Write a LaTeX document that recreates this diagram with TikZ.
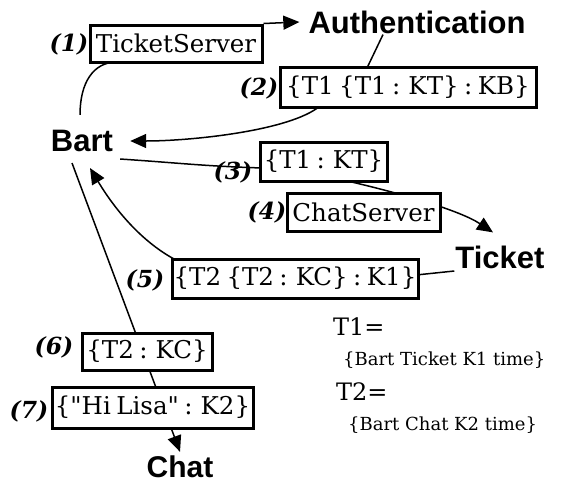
\documentclass[tikz,border=0pt]{standalone}
\usepackage{fontspec}
\setmainfont{DejaVu Serif}
\newfontfamily\msgfont{DejaVu Serif}[WordSpace=0.7]
\newfontfamily\hvfont{Liberation Sans}
\usetikzlibrary{arrows.meta}
\tikzset{
  hd/.style={font=\hvfont\bfseries\fontsize{31}{31}\selectfont, inner sep=1pt},
  msg/.style={draw, line width=3pt, fill=white, inner sep=0pt, font=\msgfont\fontsize{24.5}{24.5}\selectfont},
  num/.style={font=\bfseries\itshape\fontsize{23.5}{23.5}\selectfont, inner sep=0pt},
  conn/.style={line width=1.5pt},
  tip/.style={-{Triangle[length=16pt,width=14pt]}},
  defeq/.style={font=\fontsize{24}{24}\selectfont, inner sep=0pt, anchor=west},
  defval/.style={font=\fontsize{18}{18}\selectfont, inner sep=0pt, anchor=west}
}
\begin{document}
\begin{tikzpicture}[x=1pt,y=-1pt]
\useasboundingbox[fill=white] (0,0) rectangle (561,485);
% text nodes
\node[hd] (auth) at (417,22) {Authentication};
\node[hd] (bart) at (82,141) {Bart};
\node[hd] (ticket) at (500,257) {Ticket};
\node[hd, font=\hvfont\bfseries\fontsize{30}{30}\selectfont] (chat) at (180,467) {Chat};
% connectors (drawn under the boxes)
\draw[conn] ([yshift=14pt,xshift=-2pt]bart.north) .. controls +(0,-32) and +(-24,0) .. (117,62);
\draw[conn] ([xshift=-34pt]auth.south) -- (367,68);
\draw[conn,tip] (320,106) .. controls +(-30,25) and +(60,0) .. ([xshift=16pt]bart.east);
\draw[conn] ([xshift=6pt,yshift=-6pt]bart.south east) .. controls +(60,4) and +(-60,-2) .. (262,168);
\draw[conn,tip] (343,180) .. controls +(57,13) and +(-33,-22) .. ([xshift=-7pt,yshift=12pt]ticket.north);
\draw[conn] ([yshift=-14pt]ticket.west) -- (416,275);
\draw[conn,tip] (174,259) .. controls +(-40,-22) and +(18,30) .. ([xshift=8pt,yshift=-15pt]bart.south);
\draw[conn,tip] ([xshift=-10pt,yshift=-10pt]bart.south) -- ([yshift=3pt]chat.north);
% message boxes
\node[msg, minimum width=172pt, minimum height=37pt] (m1) at (176,43.5) {TicketServer};
\node[msg, minimum width=256pt, minimum height=40pt] (m2) at (408,87) {\{T1 \{T1 : KT\} : KB\}};
\node[msg, minimum width=127pt, minimum height=39pt] (m3) at (323.5,161.5) {\{T1 : KT\}};
\node[msg, minimum width=153pt, minimum height=38pt] (m4) at (363.5,212) {ChatServer};
\node[msg, minimum width=246pt, minimum height=39pt] (m5) at (295,278.5) {\{T2 \{T2 : KC\} : K1\}};
\node[msg, minimum width=130pt, minimum height=37pt] (m6) at (147,351.5) {\{T2 : KC\}};
\node[msg, minimum width=201pt, minimum height=41pt] (m7) at (152.5,407.5) {\{\textquotedbl Hi Lisa\textquotedbl{} : K2\}};
\draw[conn,tip] (m1.north east) -- ([xshift=-8pt]auth.west);
% step numbers
\node[num] (n1) at (69,44) {(1)};
\node[num] (n2) at (259,88) {(2)};
\node[num] (n3) at (233,172) {(3)};
\node[num] (n4) at (267,212) {(4)};
\node[num] (n5) at (145,280) {(5)};
\node[num] (n6) at (54,347) {(6)};
\node[num] (n7) at (29,411) {(7)};
% definitions
\node[defeq] (t1) at (333,327) {T1=};
\node[defval] (t1v) at (343,360) {\{Bart Ticket K1 time\}};
\node[defeq] (t2) at (336,392) {T2=};
\node[defval] (t2v) at (348,425) {\{Bart Chat K2 time\}};
\end{tikzpicture}
\end{document}
